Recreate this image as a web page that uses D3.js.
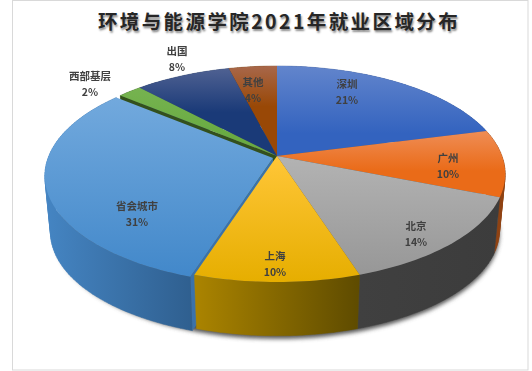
<!DOCTYPE html>
<html>
<head>
<meta charset="utf-8">
<script src="https://cdn.jsdelivr.net/npm/d3@7"></script>
<style>
html, body { margin: 0; padding: 0; background: #fff; }
svg { display: block; }
text { font-family: "Noto Sans CJK SC", sans-serif; }
</style>
</head>
<body>
<svg id="graph" width="532" height="371"></svg>
<script>
var categories = ["深圳", "广州", "北京", "上海", "省会城市", "西部基层", "出国", "其他"];
var shares = [21, 10, 14, 10, 31, 2, 8, 4];
var topStart = ["#6285cc", "#ef8d55", "#b3b3b3", "#ffc638", "#72a9dd", "#76b350", "#4f6192", "#a8674a"];
var topEnd = ["#3363bf", "#ea6b18", "#979797", "#e6ae00", "#4288ca", "#69ab42", "#1a3a78", "#994806"];
var topReach = [0.75, 0.6, 1, 1, 1, 0.7, 0.5, 0.45];
var wallStart = ["#2c4f96", "#8f4212", "#404040", "#ab8400", "#4585c3", "#3f6a26", "#1f3560", "#6f3505"];
var wallEnd = ["#2c4f96", "#8f4212", "#3c3c3c", "#5e4b00", "#2f5f8f", "#3f6a26", "#1f3560", "#6f3505"];
// label anchor points, placed by hand like in the original chart
var labelAt = [[347, 84], [448, 158], [416, 226], [275, 256], [137, 206], [90, 76], [177, 51], [253, 82]];

var svg = d3.select("#graph");
var defs = svg.append("defs");

// tilted disc: apex of the pie plus perspective factor
var apexX = 277, apexY = 156, R = 225, H = 105, k = 1 / 6;
var depth = 57, shrink = 0.975;
var explodeX = -4, explodeY = 2; // 省会城市 is pulled out a bit
var explodedIndex = 4;

function project(a, r, low) {
    var X = r * Math.sin(a), Y = r * Math.cos(a);
    var w = 1 + k * Y;
    var px = R * X / w, py = -H * Y / w;
    if (low) return [apexX + px * shrink, apexY + py * shrink + depth];
    return [apexX + px, apexY + py];
}

var pie = d3.pie().sort(null).value(d => d);
var slices = pie(shares).map(function (d, i) {
    d.i = i;
    d.mid = (d.startAngle + d.endAngle) / 2;
    d.dx = i == explodedIndex ? explodeX : 0;
    d.dy = i == explodedIndex ? explodeY : 0;
    return d;
});

function arcPoints(d, low) {
    var n = Math.max(4, Math.ceil((d.endAngle - d.startAngle) * 40));
    return d3.range(n + 1).map(function (j) {
        return project(d.startAngle + (d.endAngle - d.startAngle) * j / n, 1, low);
    });
}

var line = d3.line();

// outer wall as a strip of small quads, so the sides stay tangent to the rim
function wallPath(d) {
    var up = arcPoints(d, false), down = arcPoints(d, true);
    var out = "";
    for (var j = 0; j < up.length - 1; j++) {
        var quad = [up[j], up[j + 1], down[j + 1], down[j]];
        if (d3.polygonArea(quad) < 0) quad.reverse();
        out += line(quad) + "Z";
    }
    return out;
}

function gradient(id, horizontal, c0, c1, reach) {
    var g = defs.append("linearGradient").attr("id", id)
        .attr("x1", 0).attr("y1", 0)
        .attr("x2", horizontal ? 1 : 0).attr("y2", horizontal ? 0 : 1);
    g.append("stop").attr("offset", 0).attr("stop-color", c0);
    g.append("stop").attr("offset", reach).attr("stop-color", c1);
}
slices.forEach(function (d) {
    gradient("top" + d.i, false, topStart[d.i], topEnd[d.i], topReach[d.i]);
    gradient("wall" + d.i, true, wallStart[d.i], wallEnd[d.i], 1);
});

var blur = defs.append("filter").attr("id", "shadow")
    .attr("x", "-10%").attr("y", "-10%").attr("width", "120%").attr("height", "120%");
blur.append("feGaussianBlur").attr("stdDeviation", 2.2);

// frame
svg.append("rect")
    .attr("x", 12.5).attr("y", 0.5).attr("width", 515.5).attr("height", 369.5)
    .attr("fill", "#fff").attr("stroke", "#d9d9d9");

// shadow under the pie
var ring = d3.range(0, 2 * Math.PI, 0.05).map(a => project(a, 1, true));
svg.append("path")
    .attr("d", line(ring) + "Z")
    .attr("transform", "translate(0,3)")
    .attr("fill", "#555")
    .attr("filter", "url(#shadow)");

// back to front
var order = slices.slice().sort((a, b) => Math.cos(b.mid) - Math.cos(a.mid));

var walls = svg.append("g");
order.forEach(function (d) {
    var g = walls.append("g").attr("transform", "translate(" + d.dx + "," + d.dy + ")");
    g.append("path")
        .attr("d", wallPath(d))
        .attr("fill", "url(#wall" + d.i + ")")
        .attr("stroke", "url(#wall" + d.i + ")")
        .attr("stroke-width", 0.4);
    // cut faces that show because of the pulled out slice
    if (d.i == explodedIndex || d.i == explodedIndex + 1) {
        var a = d.startAngle;
        var face = [project(a, 0, false), project(a, 1, false), project(a, 1, true), project(a, 0, true)];
        g.append("path").attr("d", line(face) + "Z")
            .attr("fill", d.i == explodedIndex ? "#3a72ab" : "#33501d");
    }
});

var tops = svg.append("g");
order.forEach(function (d) {
    var pts = [project(0, 0, false)].concat(arcPoints(d, false));
    tops.append("path")
        .attr("d", line(pts) + "Z")
        .attr("transform", "translate(" + d.dx + "," + d.dy + ")")
        .attr("fill", "url(#top" + d.i + ")");
});

// labels
var labels = svg.append("g")
    .attr("fill", "#404040")
    .attr("font-size", 10.5)
    .attr("font-weight", 700)
    .attr("text-anchor", "middle")
    .style("filter", "blur(0.35px)");
slices.forEach(function (d) {
    var p = labelAt[d.i];
    labels.append("text").attr("x", p[0]).attr("y", p[1] + 4).text(categories[d.i]);
    labels.append("text").attr("x", p[0]).attr("y", p[1] + 20).text(shares[d.i] + "%");
});

// title
svg.append("text")
    .attr("x", 279).attr("y", 29)
    .attr("text-anchor", "middle")
    .attr("font-size", 19.5)
    .attr("font-weight", 700)
    .attr("letter-spacing", 2.4)
    .attr("fill", "#262626")
    .style("text-shadow", "1px 2px 2px rgba(0,0,0,0.45)")
    .text("环境与能源学院2021年就业区域分布");
</script>
</body>
</html>
